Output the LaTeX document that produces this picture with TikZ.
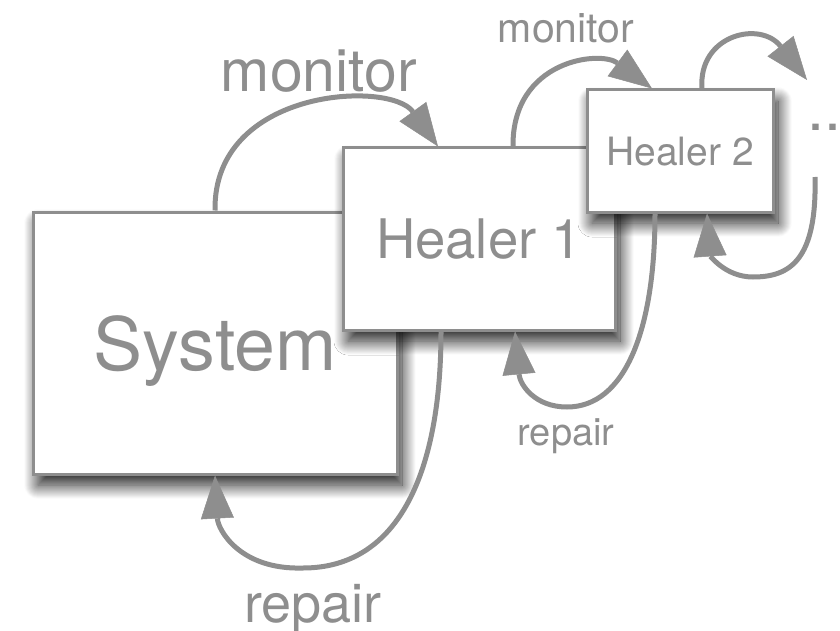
\documentclass[tikz,border=0pt]{standalone}
\usepackage{fontspec}
\setmainfont{TeX Gyre Heros}
\usetikzlibrary{arrows.meta,shadows.blur}
\definecolor{ink}{HTML}{8E8E8E}
\begin{document}
\begin{tikzpicture}[x=1pt,y=-1pt,
  box/.style={draw=ink, line width=3pt, fill=white, inner sep=0pt, text depth=0pt, text=ink,
    blur shadow={shadow xshift=5pt, shadow yshift=-11pt, shadow blur radius=14pt, shadow opacity=90, shadow blur steps=28}},
  link/.style={draw=ink, line width=5pt, -{Triangle[length=43pt,width=33pt,line width=0.5pt]}},
  lbl/.style={text=ink, inner sep=0pt, anchor=base}]
\useasboundingbox (0,0) rectangle (840,631);
% boxes
\node[box, minimum width=364pt, minimum height=262pt, font=\fontsize{73.5}{80}\selectfont] (sys) at (215,343) {System};
\node[box, minimum width=272pt, minimum height=182pt, font=\fontsize{54.5}{60}\selectfont] (h1) at (479,239) {Healer 1};
\node[box, minimum width=186pt, minimum height=122pt, font=\fontsize{39}{44}\selectfont] (h2) at (680,151) {Healer 2};
\coordinate (e1) at (807,80);
\coordinate (s2) at (815,177);
% connectors
\draw[link] (sys.north) .. controls (213,88) and (390,80) .. ([xshift=-41pt]h1.north);
\draw[link] ([xshift=-38pt]h1.south) .. controls (441,470) and (400,568) .. (303,568)
   .. controls (240,570) and (218,530) .. (sys.south);
\draw[link] ([xshift=34pt]h1.north) .. controls (512,60) and (600,50) .. ([xshift=-28pt]h2.north);
\draw[link] ([xshift=-25pt]h2.south) .. controls (655,330) and (625,407) .. (567,407)
   .. controls (535,407) and (520,385) .. ([xshift=36pt]h1.south);
\draw[link] ([xshift=22pt]h2.north) .. controls (698,35) and (760,20) .. (e1);
\draw[link] (s2) .. controls (817,260) and (790,277) .. (753,277)
   .. controls (725,277) and (710,255) .. ([xshift=27pt]h2.south);
% labels
\node[lbl, font=\fontsize{59}{64}\selectfont] (mon1) at (319,92) {monitor};
\node[lbl, font=\fontsize{41}{46}\selectfont] (mon2) at (566,43) {monitor};
\node[lbl, font=\fontsize{38}{42}\selectfont] (rep2) at (566,445) {repair};
\node[lbl, font=\fontsize{54}{60}\selectfont] (rep1) at (313,622) {repair};
\node[lbl, anchor=base west, font=\fontsize{61}{66}\selectfont] (dots) at (807,131) {...};
\end{tikzpicture}
\end{document}
